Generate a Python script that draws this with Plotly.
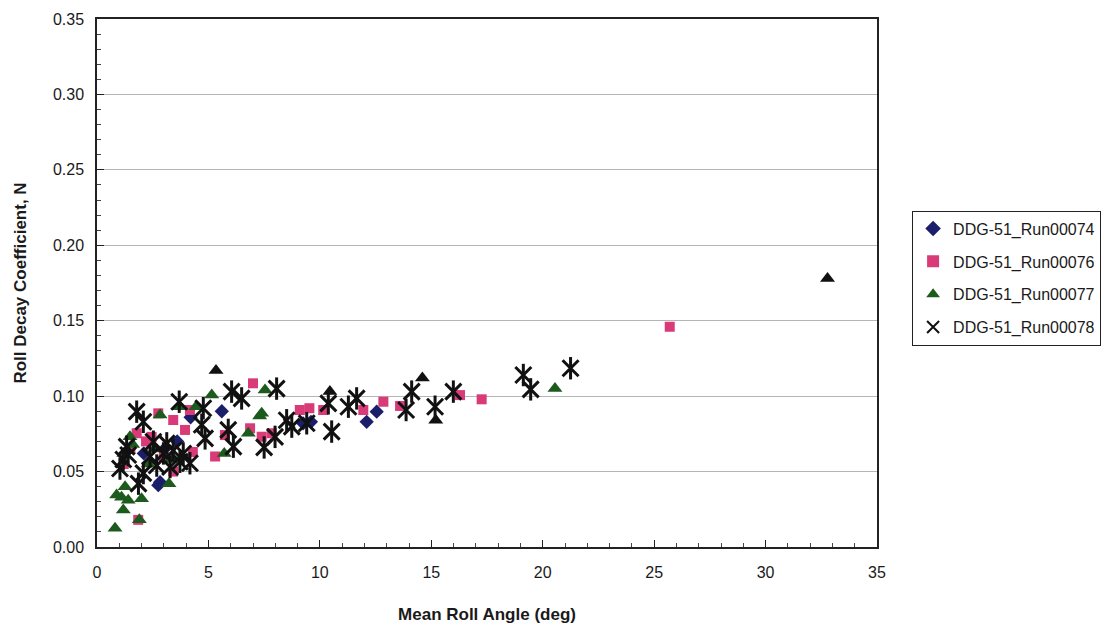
import plotly.graph_objects as go

# Roll decay coefficient vs mean roll angle, four DDG-51 runs
run74_x = [2.75, 2.83, 4.2, 5.6, 9.25, 9.6, 12.1, 12.55, 2.1, 3.1, 3.6]
run74_y = [0.041, 0.043, 0.086, 0.090, 0.082, 0.083, 0.083, 0.0897, 0.062, 0.066, 0.070]

run76_x = [1.2, 1.5, 1.78, 1.85, 2.2, 2.45, 2.75, 3.0, 3.42, 3.42, 3.95, 4.17, 4.3,
           5.3, 5.74, 6.87, 7.0, 7.39, 7.84, 9.1, 9.53, 10.15, 11.95, 12.85, 13.6,
           16.29, 17.26, 25.7]
run76_y = [0.055, 0.065, 0.0754, 0.018, 0.070, 0.073, 0.0886, 0.060, 0.050, 0.0842,
           0.0776, 0.0908, 0.063, 0.060, 0.0742, 0.0787, 0.1085, 0.0731, 0.0754,
           0.0908, 0.092, 0.0908, 0.0908, 0.0963, 0.0935, 0.1007, 0.0979, 0.146]

run77_x = [0.81, 0.88, 1.1, 1.18, 1.26, 1.4, 1.48, 1.9, 2.0, 2.83, 3.23, 3.72, 4.44,
           5.15, 5.34, 5.71, 6.79, 7.3, 7.39, 7.54, 10.45, 14.6, 15.2, 20.55, 32.78,
           1.2, 1.6, 2.3, 2.6, 3.3]
run77_y = [0.0124, 0.0345, 0.033, 0.0245, 0.040, 0.031, 0.073, 0.018, 0.032, 0.0875,
           0.042, 0.093, 0.093, 0.1007, 0.117, 0.062, 0.0754, 0.0868, 0.0886, 0.104,
           0.103, 0.112, 0.084, 0.105, 0.178, 0.062, 0.068, 0.055, 0.065, 0.058]

run78_x = [1.03, 1.18, 1.33, 1.4, 1.78, 1.86, 2.08, 2.08, 2.38, 2.53, 2.68, 2.98, 3.13,
           3.28, 3.42, 3.69, 3.72, 3.87, 4.17, 4.7, 4.77, 4.85, 5.89, 6.04, 6.12, 6.49,
           7.5, 7.99, 8.06, 8.51, 8.74, 9.41, 10.38, 10.53, 11.28, 11.65, 13.87, 14.12,
           15.17, 15.99, 19.13, 19.46, 21.25]
run78_y = [0.052, 0.058, 0.0665, 0.061, 0.0897, 0.042, 0.083, 0.049, 0.060, 0.0698,
           0.054, 0.062, 0.0687, 0.053, 0.064, 0.0963, 0.0565, 0.062, 0.0555, 0.081,
           0.092, 0.072, 0.0776, 0.103, 0.0665, 0.0985, 0.066, 0.073, 0.105, 0.084,
           0.0798, 0.082, 0.0952, 0.0765, 0.093, 0.0985, 0.0908, 0.103, 0.093, 0.103,
           0.114, 0.1045, 0.1185]

series_names = ["DDG-51_Run00074", "DDG-51_Run00076", "DDG-51_Run00077", "DDG-51_Run00078"]

NAVY = "#1b1f6b"
PINK = "#d93a78"
GREEN = "#1d5a1d"
BLACK = "#111111"

# a few triangles print much darker than the rest
dark_tri = {5.34, 10.45, 14.6, 15.2, 32.78}
tri_colors = [BLACK if x in dark_tri else GREEN for x in run77_x]

fig = go.Figure()
fig.add_trace(go.Scatter(x=run74_x, y=run74_y, mode="markers", name=series_names[0],
                         legendgroup="r74",
                         marker=dict(symbol="diamond", size=11, color=NAVY)))
fig.add_trace(go.Scatter(x=run76_x, y=run76_y, mode="markers", name=series_names[1],
                         legendgroup="r76",
                         marker=dict(symbol="square", size=10, color=PINK)))
fig.add_trace(go.Scatter(x=run77_x, y=run77_y, mode="markers", name=series_names[2],
                         legendgroup="r77",
                         marker=dict(symbol="triangle-up", size=13, color=tri_colors)))
# star marker drawn as an X with a vertical stroke through it
fig.add_trace(go.Scatter(x=run78_x, y=run78_y, mode="markers", name=series_names[3],
                         legendgroup="r78",
                         marker=dict(symbol="x-thin-open", size=16, color=BLACK,
                                     line=dict(color=BLACK, width=3))))
fig.add_trace(go.Scatter(x=run78_x, y=run78_y, mode="markers", name=series_names[3],
                         legendgroup="r78", showlegend=False,
                         marker=dict(symbol="line-ns-open", size=16, color=BLACK,
                                     line=dict(color=BLACK, width=3))))

axis_font = dict(family="Arial, Liberation Sans, sans-serif", size=16, color="#1a1a1a")
title_font = dict(family="Arial, Liberation Sans, sans-serif", size=17, color="#1a1a1a")

fig.update_layout(
    width=1113, height=629,
    margin=dict(l=97, r=236, t=19, b=82),
    paper_bgcolor="white", plot_bgcolor="white",
    showlegend=True,
    legend=dict(x=1.045, y=0.637, xanchor="left", yanchor="top",
                bordercolor="#222", borderwidth=1, bgcolor="white",
                font=dict(family="Arial, Liberation Sans, sans-serif", size=16, color="#1a1a1a"),
                tracegroupgap=9, itemsizing="constant", traceorder="grouped"),
    xaxis=dict(range=[0, 35], tickvals=[0, 5, 10, 15, 20, 25, 30, 35],
               ticks="inside", ticklen=7, tickcolor="#222", ticklabelstandoff=10,
               minor=dict(dtick=1, ticks="inside", ticklen=4, tickcolor="#444"),
               showgrid=False, zeroline=False, automargin=False,
               showline=True, linecolor="#222", linewidth=1.5, mirror=True,
               tickfont=axis_font,
               title=dict(text="<b>Mean Roll Angle (deg)</b>", font=title_font, standoff=28)),
    yaxis=dict(range=[0, 0.35], tickvals=[0, 0.05, 0.10, 0.15, 0.20, 0.25, 0.30, 0.35],
               tickformat=".2f", ticks="inside", ticklen=7, tickcolor="#222",
               ticklabelstandoff=8, automargin=False,
               minor=dict(dtick=0.01, ticks="inside", ticklen=4, tickcolor="#444",
                          showgrid=False),
               showgrid=True, gridcolor="#b5b5b5", gridwidth=1, zeroline=False,
               showline=True, linecolor="#222", linewidth=1.5, mirror=True,
               tickfont=axis_font,
               title=dict(text="<b>Roll Decay Coefficient, N</b>", font=title_font, standoff=22)),
)

fig.write_html("out.html")
